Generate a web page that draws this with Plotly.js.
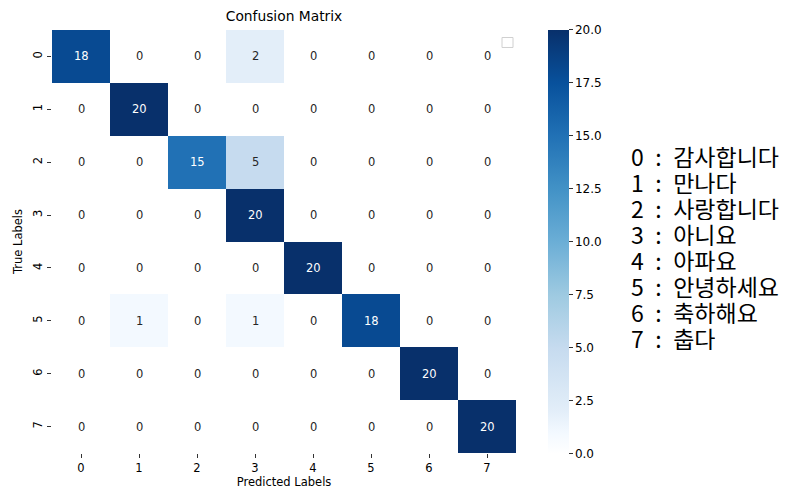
<!DOCTYPE html>
<html>
<head>
<meta charset="utf-8">
<script src="https://cdn.plot.ly/plotly-3.0.1.min.js"></script>
<style>html,body{margin:0;padding:0;background:#fff;}#chart{width:787px;height:494px;}</style>
</head>
<body>
<div id="chart"></div>
<script>
const classIds = [0, 1, 2, 3, 4, 5, 6, 7];
const classNames = ['감사합니다', '만나다', '사랑합니다', '아니요', '아파요', '안녕하세요', '축하해요', '춥다'];
const matrix = [
  [18, 0, 0, 2, 0, 0, 0, 0],
  [0, 20, 0, 0, 0, 0, 0, 0],
  [0, 0, 15, 5, 0, 0, 0, 0],
  [0, 0, 0, 20, 0, 0, 0, 0],
  [0, 0, 0, 0, 20, 0, 0, 0],
  [0, 1, 0, 1, 0, 18, 0, 0],
  [0, 0, 0, 0, 0, 0, 20, 0],
  [0, 0, 0, 0, 0, 0, 0, 20]
];
const colorTicks = [0, 2.5, 5, 7.5, 10, 12.5, 15, 17.5, 20];

const blues = [
  [0.0, '#ffffff'], [0.05, '#f3f9ff'], [0.1, '#e3eef9'], [0.125, '#deebf7'], [0.25, '#c6dbef'], [0.375, '#9ecae1'],
  [0.5, '#6baed6'], [0.625, '#4292c6'], [0.75, '#2171b5'], [0.875, '#08519c'], [1.0, '#08306b']
];

const FONT = 'DejaVu Sans, sans-serif';
const annotations = [];
matrix.forEach((row, i) => row.forEach((v, j) => {
  annotations.push({
    x: classIds[j], y: classIds[i], xref: 'x', yref: 'y', text: String(v), showarrow: false,
    font: {family: FONT, size: 11.5, color: v > 10 ? '#ffffff' : '#262626'}
  });
}));

// Plot area: x 52..516, y 29.5..453
const L = 52, R = 516, T = 29.5, B = 453;
const pw = R - L, ph = B - T;

classIds.forEach((c, k) => {
  annotations.push({
    xref: 'paper', yref: 'paper', x: (630 - L) / pw, y: (B - (155 + k * 26.1)) / ph,
    xanchor: 'left', yanchor: 'middle', align: 'left', valign: 'middle', showarrow: false,
    height: 25, borderpad: 0,
    text: c + '\u2002:\u2002' + classNames[k],
    font: {family: 'Noto Sans CJK KR, sans-serif', size: 23, color: '#000'}
  });
});

const trace = {
  type: 'heatmap', x: classIds, y: classIds, z: matrix,
  colorscale: blues, zmin: 0, zmax: 20, xgap: 0, ygap: 0,
  hoverinfo: 'skip',
  colorbar: {
    x: (548 - L) / pw, xanchor: 'left', xref: 'paper', xpad: 0, ypad: 0,
    y: 0.5, yanchor: 'middle', lenmode: 'pixels', len: ph,
    thicknessmode: 'pixels', thickness: 21, outlinewidth: 0,
    tickmode: 'array', tickvals: colorTicks, ticktext: colorTicks.map(v => v.toFixed(1)),
    ticks: 'outside', ticklen: 4, tickcolor: '#333', tickwidth: 1,
    tickfont: {family: FONT, size: 12, color: '#000'}
  }
};

const layout = {
  width: 787, height: 494,
  margin: {l: L, r: 787 - R, t: T, b: 494 - B, pad: 0},
  paper_bgcolor: '#fff', plot_bgcolor: '#fff',
  font: {family: FONT, color: '#000'},
  title: {text: 'Confusion Matrix', x: (284) / 787, xanchor: 'center', y: 1 - 16 / 494, yanchor: 'middle',
          font: {family: FONT, size: 13.8, color: '#000'}},
  xaxis: {
    tickmode: 'array', tickvals: classIds, ticktext: classIds.map(String),
    ticks: 'outside', ticklen: 4, tickcolor: '#333', showgrid: false, zeroline: false, showline: false,
    tickfont: {family: FONT, size: 11.5, color: '#000'}, range: [-0.5, 7.5],
    title: {text: 'Predicted Labels', font: {family: FONT, size: 11.5, color: '#000'}, standoff: 4}
  },
  yaxis: {
    tickmode: 'array', tickvals: classIds, ticktext: classIds.map(String), tickangle: -90,
    ticks: 'outside', ticklen: 4, tickcolor: '#333', showgrid: false, zeroline: false, showline: false,
    tickfont: {family: FONT, size: 11.5, color: '#000'}, range: [7.5, -0.5],
    title: {text: 'True Labels', font: {family: FONT, size: 11.5, color: '#000'}, standoff: 6}
  },
  shapes: [{
    type: 'rect', xref: 'paper', yref: 'paper',
    x0: (502 - L) / pw, x1: (513 - L) / pw, y0: (B - 47) / ph, y1: (B - 37) / ph,
    line: {color: '#d0d0d0', width: 1}, fillcolor: 'rgba(255,255,255,0)'
  }],
  annotations: annotations,
  showlegend: false
};

Plotly.newPlot('chart', [trace], layout, {displayModeBar: false, staticPlot: true});
</script>
</body>
</html>
